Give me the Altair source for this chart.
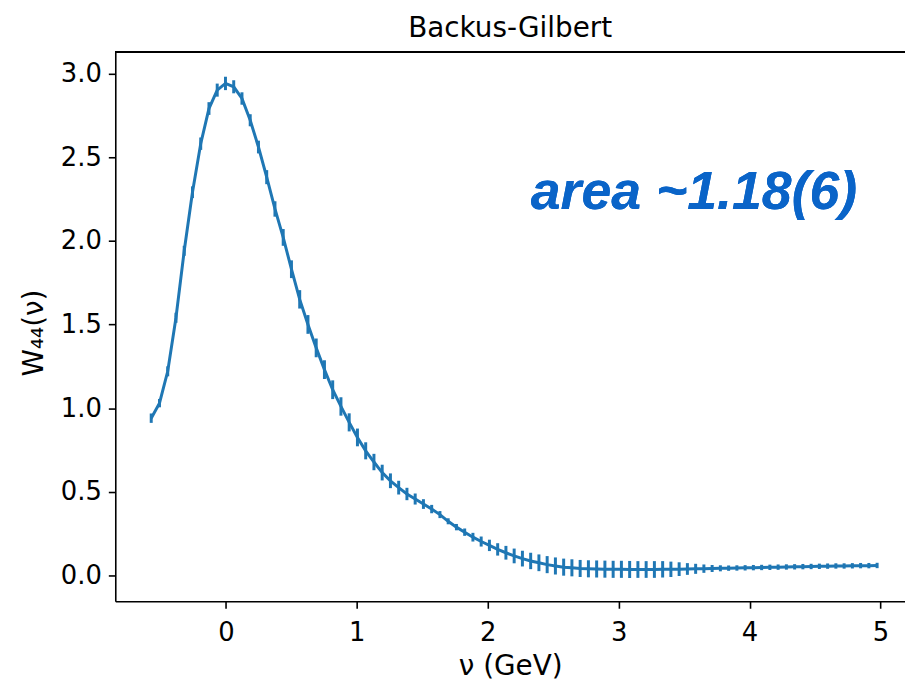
import altair as alt
import pandas as pd

# ---------------- data ----------------
nu = [-0.570, -0.507, -0.444, -0.381, -0.318, -0.255, -0.192, -0.129, -0.066, -0.003,
      0.060, 0.123, 0.186, 0.249, 0.312, 0.375, 0.438, 0.501, 0.564, 0.627,
      0.690, 0.753, 0.816, 0.879, 0.942, 1.005, 1.068, 1.131, 1.194, 1.257,
      1.320, 1.383, 1.446, 1.509, 1.572, 1.635, 1.698, 1.761, 1.824, 1.887,
      1.950, 2.013, 2.076, 2.139, 2.202, 2.265, 2.328, 2.391, 2.454, 2.517,
      2.580, 2.643, 2.706, 2.769, 2.832, 2.895, 2.958, 3.021, 3.084, 3.147,
      3.210, 3.273, 3.336, 3.399, 3.462, 3.525, 3.588, 3.651, 3.714, 3.777,
      3.840, 3.903, 3.966, 4.029, 4.092, 4.155, 4.218, 4.281, 4.344, 4.407,
      4.470, 4.533, 4.596, 4.659, 4.722, 4.785, 4.848, 4.911, 4.974]

w44 = [0.94, 1.03, 1.22, 1.54, 1.94, 2.29, 2.58, 2.79, 2.90, 2.94,
       2.92, 2.85, 2.72, 2.56, 2.38, 2.19, 2.02, 1.83, 1.65, 1.50,
       1.36, 1.23, 1.11, 1.01, 0.915, 0.825, 0.745, 0.678, 0.615, 0.566,
       0.525, 0.487, 0.457, 0.427, 0.397, 0.364, 0.324, 0.289, 0.259, 0.229,
       0.203, 0.180, 0.156, 0.136, 0.117, 0.101, 0.087, 0.076, 0.065, 0.057,
       0.050, 0.046, 0.042, 0.040, 0.039, 0.038, 0.037, 0.037, 0.036, 0.036,
       0.036, 0.036, 0.037, 0.037, 0.038, 0.039, 0.040, 0.041, 0.042, 0.043,
       0.044, 0.045, 0.046, 0.047, 0.048, 0.049, 0.050, 0.051, 0.052, 0.053,
       0.054, 0.055, 0.056, 0.057, 0.057, 0.058, 0.059, 0.059, 0.060]

w44_err = [0.028, 0.025, 0.030, 0.030, 0.030, 0.035, 0.037, 0.038, 0.039, 0.040,
           0.039, 0.037, 0.036, 0.038, 0.042, 0.046, 0.050, 0.053, 0.055, 0.056,
           0.056, 0.056, 0.056, 0.055, 0.054, 0.053, 0.051, 0.049, 0.047, 0.044,
           0.041, 0.037, 0.033, 0.029, 0.025, 0.021, 0.018, 0.019, 0.022, 0.026,
           0.030, 0.034, 0.037, 0.041, 0.044, 0.047, 0.049, 0.050, 0.051, 0.051,
           0.051, 0.051, 0.051, 0.051, 0.051, 0.051, 0.051, 0.051, 0.051, 0.050,
           0.050, 0.050, 0.049, 0.046, 0.041, 0.035, 0.030, 0.025, 0.021, 0.018,
           0.016, 0.016, 0.016, 0.016, 0.016, 0.016, 0.016, 0.016, 0.016, 0.016,
           0.016, 0.016, 0.016, 0.016, 0.016, 0.016, 0.016, 0.016, 0.016]

x_ticks = [0, 1, 2, 3, 4, 5]
y_ticks = [0.0, 0.5, 1.0, 1.5, 2.0, 2.5, 3.0]

chart_title = "Backus-Gilbert"
x_title = "ν (GeV)"
y_title = "W₄₄(ν)"
note_text = "area ~1.18(6)"
note_x = 3.575
note_y = 2.19

X_DOMAIN = [-0.8445, 5.187]
Y_DOMAIN = [-0.154, 3.128]

# ---------------- styling ----------------
W, H = 795, 553
BLUE = "#1f77b4"
NOTE_BLUE = "#0a64c8"
FONT = "DejaVu Sans"

df = pd.DataFrame({"nu": nu, "w": w44, "err": w44_err})

x_scale = alt.Scale(domain=X_DOMAIN, nice=False, zero=False)
y_scale = alt.Scale(domain=Y_DOMAIN, nice=False, zero=False)

x_axis = alt.Axis(
    title=x_title, values=x_ticks, format="d", grid=False,
    labelBaseline="alphabetic", labelPadding=32, labelFlush=False,
    labelOverlap=False,
    titleBaseline="alphabetic", titleX=W / 2, titleY=74, titleAlign="center",
    titleAngle=0,
)
y_axis = alt.Axis(
    title=y_title, values=y_ticks, format=".1f", grid=False,
    labelBaseline="middle", labelAlign="right", labelPadding=7,
    labelFlush=False, labelOverlap=False,
    titleAngle=270, titleBaseline="alphabetic", titleX=-73, titleY=H / 2 + 6,
    titleAlign="center",
)

base = alt.Chart(df)

errbars = base.transform_calculate(
    lo="datum.w - datum.err", hi="datum.w + datum.err"
).mark_rule(color=BLUE, strokeWidth=3).encode(
    x=alt.X("nu:Q", scale=x_scale, axis=x_axis),
    y=alt.Y("lo:Q", scale=y_scale, axis=y_axis),
    y2="hi:Q",
)

line = base.mark_line(color=BLUE, strokeWidth=3).encode(
    x=alt.X("nu:Q", scale=x_scale, axis=x_axis),
    y=alt.Y("w:Q", scale=y_scale, axis=y_axis),
    order="nu:Q",
)

top_spine = alt.Chart(df).mark_rule(color="black", strokeWidth=1.6).encode(
    y=alt.datum(Y_DOMAIN[1], scale=y_scale, axis=y_axis),
)

note = alt.Chart(df).mark_text(
    text=note_text, font="Liberation Sans", fontSize=54, fontWeight="bold",
    fontStyle="italic", color=NOTE_BLUE, align="center", baseline="alphabetic",
).encode(
    x=alt.datum(note_x, scale=x_scale, axis=x_axis),
    y=alt.datum(note_y, scale=y_scale, axis=y_axis),
).transform_filter("datum.nu < -0.5")

chart = alt.layer(errbars, line, top_spine, note).properties(
    width=W,
    height=H,
    padding={"left": 108, "top": 42, "right": 0, "bottom": 80},
    autosize=alt.AutoSizeParams(type="none"),
    title=alt.Title(
        chart_title, font=FONT, fontSize=28, fontWeight="normal",
        color="black", anchor="middle", baseline="alphabetic", offset=13,
        frame="group", dy=27,
    ),
).configure(
    background="white"
).configure_view(
    stroke=None
).configure_axis(
    labelFont=FONT, labelFontSize=26, labelColor="black",
    titleFont=FONT, titleFontSize=28, titleFontWeight="normal", titleColor="black",
    tickColor="black", tickSize=7, tickWidth=1.6,
    domainColor="black", domainWidth=1.6,
)

chart.save("out.html", embed_options={"renderer": "svg", "actions": False})
